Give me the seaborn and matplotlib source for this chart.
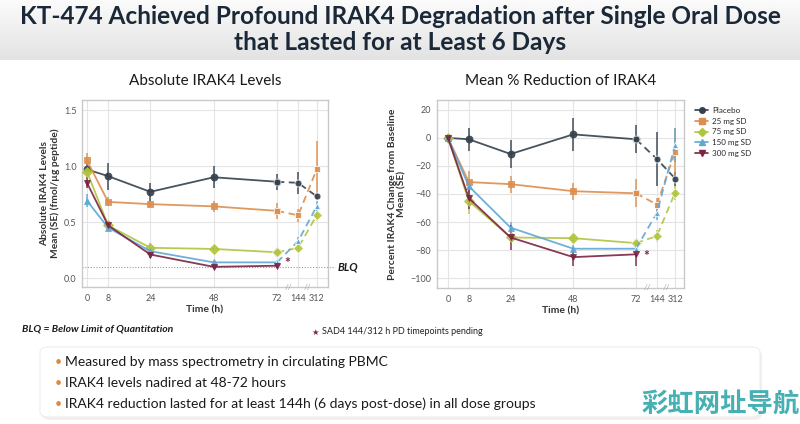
import numpy as np
import pandas as pd
import seaborn as sns
import matplotlib.pyplot as plt
from matplotlib.patches import FancyBboxPatch
from matplotlib.lines import Line2D
import matplotlib.transforms as mtransforms

sns.set_style("white")
plt.rcParams['font.family'] = ['Lato', 'DejaVu Sans']

# data
times = [0, 8, 24, 48, 72, 144, 312]
groups = ["Placebo", "25 mg SD", "75 mg SD", "150 mg SD", "300 mg SD"]
colors = ["#34404c", "#dc8e4e", "#b3c43e", "#5fa8d6", "#7b2343"]
markers = ["o", "s", "D", "^", "v"]

abs_mean = {
    "Placebo":   [0.97, 0.91, 0.77, 0.90, 0.86, 0.85, 0.73],
    "25 mg SD":  [1.05, 0.68, 0.66, 0.64, 0.60, 0.56, 0.97],
    "75 mg SD":  [0.95, 0.47, 0.27, 0.26, 0.23, 0.27, 0.56],
    "150 mg SD": [0.69, 0.45, 0.24, 0.14, 0.14, 0.33, 0.64],
    "300 mg SD": [0.85, 0.47, 0.21, 0.10, 0.11, None, None],
}
abs_se = {
    "Placebo":   [0.05, 0.12, 0.08, 0.10, 0.07, 0.10, 0.03],
    "25 mg SD":  [0.07, 0.04, 0.03, 0.05, 0.07, 0.06, 0.25],
    "75 mg SD":  [0.04, 0.03, 0.04, 0.02, 0.02, 0.03, 0.05],
    "150 mg SD": [0.06, 0.03, 0.03, 0.02, 0.02, 0.04, 0.05],
    "300 mg SD": [0.05, 0.04, 0.03, 0.02, 0.02, None, None],
}
pct_mean = {
    "Placebo":   [0, -1, -11.5, 2.5, -1, -15, -29],
    "25 mg SD":  [0, -31.5, -33, -38, -39.5, -47.5, -10],
    "75 mg SD":  [0, -45, -71, -71.5, -75, -70, -39],
    "150 mg SD": [0, -34.5, -64, -79, -79, -53.5, -5],
    "300 mg SD": [0, -43, -71, -85, -83, None, None],
}
pct_se = {
    "Placebo":   [1, 8, 10, 12, 10, 19, 5],
    "25 mg SD":  [1, 8, 6, 6, 10, 5, 17],
    "75 mg SD":  [1, 9, 4, 3, 3, 4, 5],
    "150 mg SD": [1, 5, 4, 3, 3, 5, 12],
    "300 mg SD": [1, 8, 9, 6, 8, None, None],
}
xtick_labels = ["0", "8", "24", "48", "72", "144", "312"]
# broken axis: 144 and 312 squeezed after 72
xpos = [0, 8, 24, 48, 72, 80, 87]

fig = plt.figure(figsize=(8, 4.24), dpi=100)

# header band
hdr = fig.add_axes([0, 1 - 60 / 424, 1, 60 / 424])
grad = np.linspace(0, 1, 50).reshape(-1, 1)
hdr.imshow(grad, aspect="auto", cmap=sns.blend_palette(["#fbfbfb", "#e3e3e3"], as_cmap=True),
           extent=[0, 1, 0, 1], origin="upper")
hdr.axis("off")
fig.text(0.5, 1 - 17 / 424, "KT-474 Achieved Profound IRAK4 Degradation after Single Oral Dose",
         ha="center", va="center", fontsize=17.6, fontweight="bold", color="#1a2838")
fig.text(0.5, 1 - 43 / 424, "that Lasted for at Least 6 Days",
         ha="center", va="center", fontsize=17.6, fontweight="bold", color="#1a2838")


def panel(ax, mean, se, ylim, yticks, ylabel, title, xlim):
    for g, c, m in zip(groups, colors, markers):
        df = pd.DataFrame({"x": xpos, "y": mean[g], "e": se[g]}).dropna()
        solid = df[df["x"] <= 72]
        dash = df[df["x"] >= 72]
        sns.lineplot(data=solid, x="x", y="y", color=c, lw=1.3, ax=ax, marker=m,
                     markersize=5, markeredgewidth=0.6, markerfacecolor=c,
                     markeredgecolor=c, alpha=0.9, zorder=3)
        if len(dash) > 1:
            sns.lineplot(data=dash, x="x", y="y", color=c, lw=1.3, ax=ax, marker=m,
                         markersize=5, markeredgewidth=0.6, alpha=0.9,
                         linestyle=(0, (4, 2.5)), zorder=3)
        ax.errorbar(df["x"], df["y"], yerr=df["e"], fmt="none", ecolor=c,
                    elinewidth=1.2, alpha=0.85, capsize=0, zorder=2)
    ax.set_xlim(*xlim)
    ax.set_ylim(*ylim)
    ax.set_xticks(xpos)
    ax.set_xticklabels(xtick_labels)
    ax.set_yticks(yticks)
    ax.grid(True, color="#e4e4e4", lw=0.8)
    for s in ax.spines.values():
        s.set_color("#c9c9c9")
        s.set_linewidth(1.0)
    ax.tick_params(axis="both", labelsize=6.5, colors="#555555", length=0)
    ax.tick_params(axis="x", pad=5)
    ax.tick_params(axis="y", pad=4)
    ax.set_xlabel("Time (h)", fontsize=7.5, fontweight="bold", color="#333333", labelpad=2)
    ax.set_ylabel(ylabel, fontsize=7.4, fontweight="bold", color="#333333", labelpad=3,
                  linespacing=1.1)
    ax.set_title(title, fontsize=11, color="#1a1a1a", pad=11)
    trans = mtransforms.blended_transform_factory(ax.transData, ax.transAxes)
    for bx in [76.5, 83.5]:
        ax.text(bx, 0.0, "//", transform=trans, ha="center", va="center",
                fontsize=6, color="#aaaaaa", clip_on=False)


axL = fig.add_axes([82 / 800, 1 - 287 / 424, 246 / 800, 187 / 424])
panel(axL, abs_mean, abs_se, (-0.08, 1.59), [0.0, 0.5, 1.0, 1.5],
      "Absolute IRAK4 Levels\nMean (SE) (fmol/\u00b5g peptide)", "Absolute IRAK4 Levels",
      (-1.9, 91.3))
axL.set_yticklabels(["0.0", "0.5", "1.0", "1.5"])
axL.axhline(0.1, color="#999999", lw=0.8, ls=(0, (1, 1.5)), xmin=0, xmax=1.03,
            clip_on=False, zorder=1)
axL.text(1.04, 0.1, "BLQ", transform=mtransforms.blended_transform_factory(axL.transAxes, axL.transData),
         fontsize=8, fontweight="bold", fontstyle="italic", va="center", color="#1a1a1a")
axL.text(76, 0.13, "*", fontsize=10, color="#7b2343", ha="center", va="center", fontweight="bold")

axR = fig.add_axes([437 / 800, 1 - 288 / 424, 247 / 800, 188 / 424])
panel(axR, pct_mean, pct_se, (-107, 27), [20, 0, -20, -40, -60, -80, -100],
      "Percent IRAK4 Change from Baseline\nMean (SE)", "Mean % Reduction of IRAK4",
      (-4.2, 90.4))
axR.set_yticklabels(["20", "0", "\u221220", "\u221240", "\u221260", "\u221280", "\u2212100"])
axR.text(76, -84, "*", fontsize=10, color="#7b2343", ha="center", va="center", fontweight="bold")

# legend
handles = [Line2D([0], [0], color=c, marker=m, markersize=4, lw=1.2) for c, m in zip(colors, markers)]
fig.legend(handles, groups, loc="upper left", bbox_to_anchor=(692 / 800, 1 - 104 / 424),
           frameon=False, fontsize=5.8, handlelength=1.6, labelspacing=0.45,
           handletextpad=0.5, borderaxespad=0)

# footnotes
fig.text(22 / 800, 1 - 329 / 424, "BLQ = Below Limit of Quantitation", fontsize=7.5,
         fontweight="bold", fontstyle="italic", va="center", color="#1a1a1a")
fig.text(311 / 800, 1 - 332 / 424, "\u2605", fontsize=6, color="#7b2343", va="center",
         family=["DejaVu Sans"])
fig.text(322 / 800, 1 - 332 / 424, "SAD4 144/312 h PD timepoints pending", fontsize=6.5,
         va="center", color="#222222")

# bullet box
box = FancyBboxPatch((40 / 800, 1 - 417 / 424), 720 / 800, 70 / 424,
                     boxstyle="round,pad=0,rounding_size=0.012", transform=fig.transFigure,
                     facecolor="white", edgecolor="#eeeeee", lw=0.8, zorder=0)
shadow = FancyBboxPatch((42 / 800, 1 - 420 / 424), 720 / 800, 70 / 424,
                        boxstyle="round,pad=0,rounding_size=0.012", transform=fig.transFigure,
                        facecolor="#f0f0f0", edgecolor="none", zorder=-1)
fig.patches.extend([shadow, box])
bullets = ["Measured by mass spectrometry in circulating PBMC",
           "IRAK4 levels nadired at 48-72 hours",
           "IRAK4 reduction lasted for at least 144h (6 days post-dose) in all dose groups"]
for i, b in enumerate(bullets):
    y = 1 - (362 + 21 * i) / 424
    fig.text(55 / 800, y, "\u2022", fontsize=9, color="#e0883c", va="center")
    fig.text(65 / 800, y, b, fontsize=10, va="center", color="#1a1a1a")

fig.text(800 / 800, 1 - 404 / 424, "彩虹网址导航", fontsize=19, fontweight="bold", ha="right",
         va="center", color="#27a3a6", alpha=0.85, family=["Noto Sans CJK SC", "DejaVu Sans"])

fig.savefig("out.png", dpi=100, facecolor="white")
